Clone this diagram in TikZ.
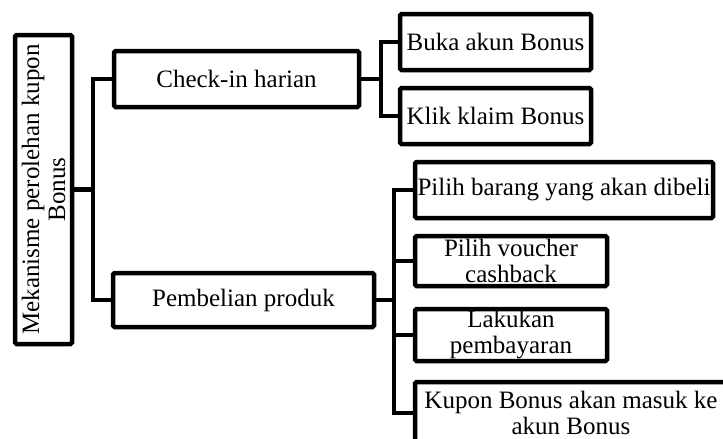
\documentclass[tikz,border=0pt]{standalone}
\usepackage{fontspec}
\setmainfont{Liberation Serif}
\begin{document}
\begin{tikzpicture}
[
    x=1pt, y=-1pt,
    box/.style={draw, line width=4.5pt, rounded corners=1.5pt, inner sep=0pt,
        align=center, font=\fontsize{25}{26}\selectfont},
    link/.style={draw, line width=4.5pt}
]
    \useasboundingbox (0, 0) rectangle (723, 439);

    \node [box, rotate=90, minimum width=309pt, minimum height=57pt] (root) at (43.5, 189.5)
        {Mekanisme perolehan kupon\\Bonus};

    \node [box, minimum width=245pt, minimum height=56pt] (checkin) at (236.5, 79) {Check-in harian};
    \node [box, minimum width=261pt, minimum height=54pt] (beli) at (243.5, 300) {Pembelian produk};

    \node [box, minimum width=191pt, minimum height=56pt] (buka) at (495.5, 42) {Buka akun Bonus};
    \node [box, minimum width=191pt, minimum height=56pt] (klik) at (495.5, 116) {Klik klaim Bonus};

    \node [box, minimum width=298pt, minimum height=56pt] (pilih) at (564, 190) {Pilih barang yang akan dibeli};
    \node [box, minimum width=192pt, minimum height=50pt] (voucher) at (511, 261) {Pilih voucher\\cashback};
    \node [box, minimum width=192pt, minimum height=52pt] (bayar) at (511, 335) {Lakukan\\pembayaran};
    \node [box, minimum width=312pt, minimum height=62pt] (kupon) at (571, 413) {Kupon Bonus akan masuk ke\\akun Bonus};

    % forks
    \coordinate (rootfork) at (93, 0);
    \coordinate (checkfork) at (381, 0);
    \coordinate (belifork) at (394, 0);

    \draw [link] (root.south) -- (rootfork |- root.south);
    \draw [link] (checkin.west) -| (rootfork |- beli.west) -- (beli.west);

    \draw [link] (checkin.east) -- (checkfork |- checkin.east);
    \draw [link] (buka.west) -| (checkfork |- klik.west) -- (klik.west);

    \draw [link] (beli.east) -- (belifork |- beli.east);
    \draw [link] (pilih.west) -| (belifork |- kupon.west) -- (kupon.west);
    \draw [link] (voucher.west) -- (belifork |- voucher.west);
    \draw [link] (bayar.west) -- (belifork |- bayar.west);
\end{tikzpicture}
\end{document}
